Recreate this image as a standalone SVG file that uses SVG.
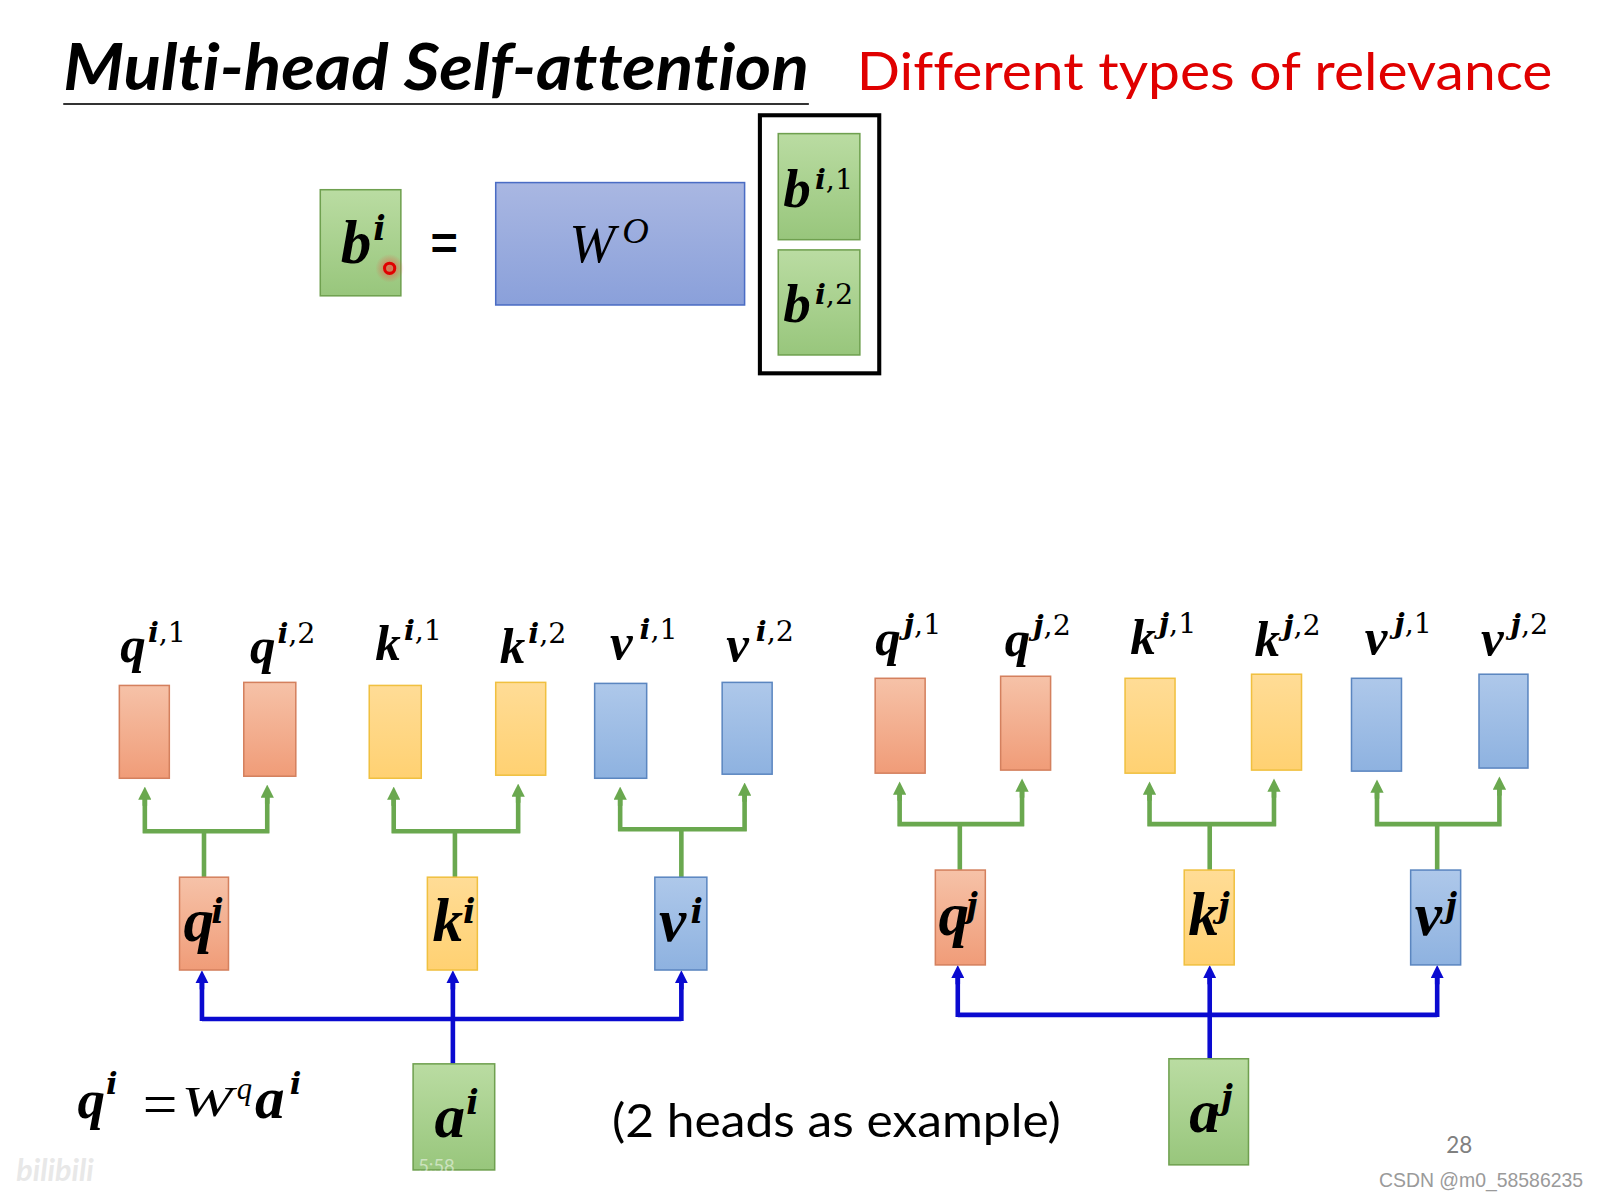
<svg xmlns="http://www.w3.org/2000/svg" width="1600" height="1200" viewBox="0 0 1600 1200">
<style>
.m{font-family:"Liberation Serif","Times New Roman",serif;font-weight:bold;font-style:italic;fill:#000}
.mn{font-family:"Liberation Serif","Times New Roman",serif;font-style:italic;fill:#000}
.s{font-family:"DejaVu Serif",serif;font-weight:bold;font-style:italic;fill:#000}
.dg{font-family:"DejaVu Serif",serif;font-style:normal;font-weight:normal}
.lbl{font-size:50px}
.mid{font-size:60px}
.s28{font-size:28px}
.s32{font-size:32px}
.or{fill:url(#gOr);stroke:#d4805e;stroke-width:1.5}
.ye{fill:url(#gYe);stroke:#f0c040;stroke-width:1.5}
.bl{fill:url(#gBl);stroke:#5b86c0;stroke-width:1.5}
.gr{fill:url(#gGr);stroke:#6fa04f;stroke-width:1.5}
.gl{fill:none;stroke:#6aa84f;stroke-width:4.5}
.bu{fill:none;stroke:#0a0ad0;stroke-width:4.5}
.sans{font-family:Lato,"Open Sans","Liberation Sans",sans-serif;font-variant-ligatures:none}
</style>
<defs>
<linearGradient id="gOr" x1="0" y1="0" x2="0" y2="1"><stop offset="0" stop-color="#f6c2a8"/><stop offset="1" stop-color="#f09c78"/></linearGradient>
<linearGradient id="gYe" x1="0" y1="0" x2="0" y2="1"><stop offset="0" stop-color="#ffdc96"/><stop offset="1" stop-color="#ffd172"/></linearGradient>
<linearGradient id="gBl" x1="0" y1="0" x2="0" y2="1"><stop offset="0" stop-color="#aec8ea"/><stop offset="1" stop-color="#8eb2e0"/></linearGradient>
<linearGradient id="gGr" x1="0" y1="0" x2="0" y2="1"><stop offset="0" stop-color="#badca2"/><stop offset="1" stop-color="#98c67c"/></linearGradient>
<linearGradient id="gW" x1="0" y1="0" x2="0" y2="1"><stop offset="0" stop-color="#a9b7e2"/><stop offset="1" stop-color="#8aa0da"/></linearGradient>
<radialGradient id="glow"><stop offset="0" stop-color="#ff3030" stop-opacity="0.6"/><stop offset="1" stop-color="#ff3030" stop-opacity="0"/></radialGradient>
<marker id="ag" viewBox="0 0 12 12" refX="2" refY="6" markerWidth="13" markerHeight="13" markerUnits="userSpaceOnUse" orient="auto"><path d="M0,0 L12,6 L0,12 z" fill="#6aa84f"/></marker>
<marker id="ab" viewBox="0 0 12 12" refX="2" refY="6" markerWidth="13" markerHeight="13" markerUnits="userSpaceOnUse" orient="auto"><path d="M0,0 L12,6 L0,12 z" fill="#0a0ad0"/></marker>
</defs>
<rect width="1600" height="1200" fill="#fff"/>
<g transform="scale(1.02)">
<g id="title">
<text x="62" y="88" class="sans" font-size="63" font-weight="bold" font-style="italic" textLength="731" lengthAdjust="spacingAndGlyphs">Multi-head Self-attention</text>
<line x1="62" y1="102" x2="793" y2="102" stroke="#333" stroke-width="2"/>
<text x="840" y="88" class="sans" font-size="52" fill="#e00000" textLength="682" lengthAdjust="spacingAndGlyphs">Different types of relevance</text>
</g>
<g id="b_i"><rect x="314" y="186" width="79" height="104" class="gr"/><text x="334" y="258" class="m mid">b</text><text x="366" y="235" class="s s32">i</text></g>
<g id="pointer"><circle cx="382" cy="263" r="14" fill="url(#glow)"/><circle cx="382" cy="263" r="5" fill="none" stroke="#e00000" stroke-width="3"/></g>
<g id="eq"><text x="422" y="254" font-family="'Liberation Sans',sans-serif" font-weight="bold" font-size="46">=</text></g>
<g id="W_O"><rect x="486" y="179" width="244" height="120" fill="url(#gW)" stroke="#4a6cc4" stroke-width="1.5"/><text x="558" y="257" class="mn" font-size="54">W</text><text x="610" y="238" class="mn" font-size="36">O</text></g>
<g id="concat">
<rect x="745" y="113" width="117" height="253" fill="none" stroke="#000" stroke-width="4"/>
<g id="b_i1"><rect x="763" y="131" width="80" height="104" class="gr"/><text x="768" y="203" class="m" font-size="54">b</text><text x="799" y="185" class="s s28">i<tspan class="dg">,1</tspan></text></g>
<g id="b_i2"><rect x="763" y="245" width="80" height="103" class="gr"/><text x="768" y="316" class="m" font-size="54">b</text><text x="799" y="298" class="s s28">i<tspan class="dg">,2</tspan></text></g>
</g>
<g id="connectors">
<path class="gl" d="M200,860 V815 M140,815 H264 M142,817 V782 M262,817 V780" />
<path class="gl" d="M142,790 V782" marker-end="url(#ag)"/>
<path class="gl" d="M262,788 V780" marker-end="url(#ag)"/>
<path class="gl" d="M446,860 V815 M384,815 H510 M386,817 V782 M508,817 V779"/>
<path class="gl" d="M386,790 V782" marker-end="url(#ag)"/>
<path class="gl" d="M508,787 V779" marker-end="url(#ag)"/>
<path class="gl" d="M668,860 V813 M606,813 H732 M608,815 V782 M730,815 V778"/>
<path class="gl" d="M608,790 V782" marker-end="url(#ag)"/>
<path class="gl" d="M730,786 V778" marker-end="url(#ag)"/>
<path class="gl" d="M941,853 V808 M880,808 H1004 M882,810 V777 M1002,810 V774"/>
<path class="gl" d="M882,785 V777" marker-end="url(#ag)"/>
<path class="gl" d="M1002,782 V774" marker-end="url(#ag)"/>
<path class="gl" d="M1186,853 V808 M1125,808 H1251 M1127,810 V777 M1249,810 V774"/>
<path class="gl" d="M1127,785 V777" marker-end="url(#ag)"/>
<path class="gl" d="M1249,782 V774" marker-end="url(#ag)"/>
<path class="gl" d="M1409,853 V808 M1348,808 H1472 M1350,810 V775 M1470,810 V772"/>
<path class="gl" d="M1350,783 V775" marker-end="url(#ag)"/>
<path class="gl" d="M1470,780 V772" marker-end="url(#ag)"/>
<path class="bu" d="M444,1043 V999 M198,999 H668 M198,1001 V962 M444,999 V962 M668,1001 V962"/>
<path class="bu" d="M198,970 V962" marker-end="url(#ab)"/>
<path class="bu" d="M444,970 V962" marker-end="url(#ab)"/>
<path class="bu" d="M668,970 V962" marker-end="url(#ab)"/>
<path class="bu" d="M1186,1038 V995 M939,995 H1409 M939,997 V957 M1186,995 V957 M1409,997 V957"/>
<path class="bu" d="M939,965 V957" marker-end="url(#ab)"/>
<path class="bu" d="M1186,965 V957" marker-end="url(#ab)"/>
<path class="bu" d="M1409,965 V957" marker-end="url(#ab)"/>
</g>
<g id="q_i1"><rect x="117" y="672" width="49" height="91" class="or"/><text x="118" y="649" class="m lbl">q</text><text x="145" y="629" class="s s28">i<tspan class="dg">,1</tspan></text></g>
<g id="q_i2"><rect x="239" y="669" width="51" height="92" class="or"/><text x="245" y="650" class="m lbl">q</text><text x="272" y="630" class="s s28">i<tspan class="dg">,2</tspan></text></g>
<g id="k_i1"><rect x="362" y="672" width="51" height="91" class="ye"/><text x="368" y="647" class="m lbl">k</text><text x="396" y="627" class="s s28">i<tspan class="dg">,1</tspan></text></g>
<g id="k_i2"><rect x="486" y="669" width="49" height="91" class="ye"/><text x="490" y="650" class="m lbl">k</text><text x="518" y="630" class="s s28">i<tspan class="dg">,2</tspan></text></g>
<g id="v_i1"><rect x="583" y="670" width="51" height="93" class="bl"/><text x="598" y="646" class="m lbl">v</text><text x="627" y="626" class="s s28">i<tspan class="dg">,1</tspan></text></g>
<g id="v_i2"><rect x="708" y="669" width="49" height="90" class="bl"/><text x="712" y="648" class="m lbl">v</text><text x="741" y="628" class="s s28">i<tspan class="dg">,2</tspan></text></g>
<g id="q_j1"><rect x="858" y="665" width="49" height="93" class="or"/><text x="858" y="642" class="m lbl">q</text><text x="886" y="622" class="s s28">j<tspan class="dg">,1</tspan></text></g>
<g id="q_j2"><rect x="981" y="663" width="49" height="92" class="or"/><text x="985" y="643" class="m lbl">q</text><text x="1013" y="623" class="s s28">j<tspan class="dg">,2</tspan></text></g>
<g id="k_j1"><rect x="1103" y="665" width="49" height="93" class="ye"/><text x="1108" y="641" class="m lbl">k</text><text x="1136" y="621" class="s s28">j<tspan class="dg">,1</tspan></text></g>
<g id="k_j2"><rect x="1227" y="661" width="49" height="94" class="ye"/><text x="1230" y="643" class="m lbl">k</text><text x="1258" y="623" class="s s28">j<tspan class="dg">,2</tspan></text></g>
<g id="v_j1"><rect x="1325" y="665" width="49" height="91" class="bl"/><text x="1338" y="641" class="m lbl">v</text><text x="1367" y="621" class="s s28">j<tspan class="dg">,1</tspan></text></g>
<g id="v_j2"><rect x="1450" y="661" width="48" height="92" class="bl"/><text x="1452" y="642" class="m lbl">v</text><text x="1481" y="622" class="s s28">j<tspan class="dg">,2</tspan></text></g>
<g id="q_i"><rect x="176" y="860" width="48" height="91" class="or"/><text x="180" y="923" class="m mid">q</text><text x="207" y="905" class="s s32">i</text></g>
<g id="k_i"><rect x="419" y="860" width="49" height="91" class="ye"/><text x="424" y="923" class="m mid">k</text><text x="454" y="905" class="s s32">i</text></g>
<g id="v_i"><rect x="642" y="860" width="51" height="91" class="bl"/><text x="646" y="923" class="m mid">v</text><text x="677" y="905" class="s s32">i</text></g>
<g id="q_j"><rect x="917" y="853" width="49" height="93" class="or"/><text x="920" y="917" class="m mid">q</text><text x="947" y="899" class="s s32">j</text></g>
<g id="k_j"><rect x="1161" y="853" width="49" height="93" class="ye"/><text x="1165" y="917" class="m mid">k</text><text x="1194" y="899" class="s s32">j</text></g>
<g id="v_j"><rect x="1383" y="853" width="49" height="93" class="bl"/><text x="1387" y="917" class="m mid">v</text><text x="1417" y="899" class="s s32">j</text></g>
<g id="a_i"><rect x="405" y="1043" width="80" height="104" class="gr"/><text x="426" y="1115" class="m mid">a</text><text x="457" y="1092" class="s s32">i</text><text x="410" y="1150" class="sans" font-size="18" fill="#fff" fill-opacity="0.5">5:58</text></g>
<g id="a_j"><rect x="1146" y="1038" width="78" height="104" class="gr"/><text x="1166" y="1110" class="m mid">a</text><text x="1197" y="1087" class="s s32">j</text></g>
<g id="formula">
<text x="76" y="1096" class="m" font-size="54">q</text>
<text x="104" y="1073" class="s" font-size="30">i</text>
<text x="140" y="1102" font-family="'Liberation Serif',serif" font-size="58" textLength="34" lengthAdjust="spacingAndGlyphs">=</text>
<text x="178" y="1094" class="mn" font-size="42" textLength="50" lengthAdjust="spacingAndGlyphs">W</text>
<text x="232" y="1077" class="mn" font-size="30">q</text>
<text x="250" y="1096" class="m" font-size="58">a</text>
<text x="284" y="1073" class="s" font-size="30">i</text>
</g>
<g id="note"><text x="600" y="1115" class="sans" font-size="46" textLength="440" lengthAdjust="spacingAndGlyphs">(2 heads as example)</text></g>
<g id="page"><text x="1418" y="1130" class="sans" font-size="22" fill="#808080">28</text></g>
<g id="watermarks">
<text x="16" y="1158" class="sans" font-size="30" font-weight="bold" font-style="italic" fill="#e2e2e2" fill-opacity="0.8">bilibili</text>
<text x="1352" y="1164" font-family="'Liberation Sans',sans-serif" font-size="20" fill="#9a9a9a" textLength="200" lengthAdjust="spacingAndGlyphs">CSDN @m0_58586235</text>
</g>
</g>
</svg>
